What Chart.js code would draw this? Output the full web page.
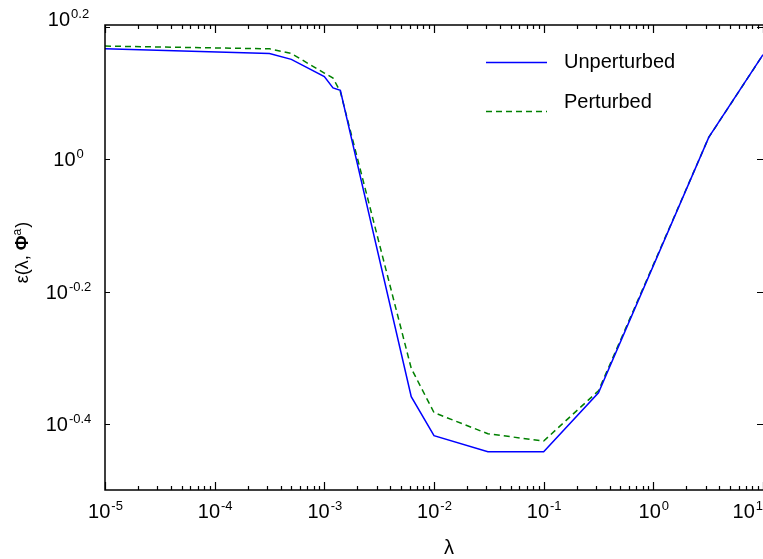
<!DOCTYPE html>
<html>
<head>
<meta charset="utf-8">
<script src="https://cdn.jsdelivr.net/npm/chart.js@4"></script>
<style>
  body { margin: 0; background: #fff; }
  #wrap { width: 763px; height: 559px; }
</style>
</head>
<body>
<div id="wrap"><canvas id="c" width="763" height="559"></canvas></div>
<script>
// lambda values (x) and error values (y)
const lambdas = [1e-5, 3.16e-4, 5e-4, 1e-3, 1.2e-3, 1.4e-3, 6.2e-3, 1e-2, 3.1e-2, 1e-1, 3.16e-1, 3.2, 10];
const unperturbed = [1.469, 1.445, 1.416, 1.334, 1.282, 1.271, 0.4375, 0.382, 0.3614, 0.3614, 0.4436, 1.079, 1.439];
const perturbed = [1.483, 1.469, 1.445, 1.350, 1.327, 1.265, 0.483, 0.414, 0.3846, 0.375, 0.4467, 1.079, 1.439];

const seriesNames = ['Unperturbed', 'Perturbed'];
const xTickExps = ['-5', '-4', '-3', '-2', '-1', '0', '1'];
const yTickExps = ['0.2', '0', '-0.2', '-0.4'];

const FONT = '"Liberation Sans", Arial, sans-serif';

function toPoints(ys) {
  return lambdas.map((x, i) => ({ x: x, y: ys[i] }));
}

function drawPow(ctx, exp, cx, baseline, maxRight) {
  ctx.font = '20px ' + FONT;
  const w1 = ctx.measureText('10').width;
  ctx.font = '13px ' + FONT;
  const w2 = ctx.measureText(exp).width;
  let left = cx - (w1 + w2) / 2;
  if (maxRight && left + w1 + w2 + 1 > maxRight) left = maxRight - w1 - w2 - 1;
  ctx.textAlign = 'left';
  ctx.textBaseline = 'alphabetic';
  ctx.font = '20px ' + FONT;
  ctx.fillText('10', left, baseline);
  ctx.font = '13px ' + FONT;
  ctx.fillText(exp, left + w1 + 1, baseline - 8);
}

// frame, gnuplot-like inward ticks, tick labels, titles and legend
const decorations = {
  id: 'decorations',
  afterDraw(chart) {
    const { ctx, chartArea: a, scales } = chart;
    const xs = scales.x, ys = scales.y;
    ctx.save();
    ctx.strokeStyle = '#000';
    ctx.fillStyle = '#000';
    ctx.lineWidth = 1.5;
    ctx.strokeRect(a.left, a.top, a.right - a.left + 2, a.bottom - a.top);

    // x ticks, bottom and top
    ctx.lineWidth = 1.2;
    ctx.beginPath();
    for (let d = -5; d <= 1; d++) {
      for (let k = 1; k <= 9; k++) {
        const v = k * Math.pow(10, d);
        if (v > xs.max * 1.0001) break;
        const px = Math.round(xs.getPixelForValue(v)) + 0.5;
        const len = k === 1 ? 8 : 4;
        ctx.moveTo(px, a.bottom); ctx.lineTo(px, a.bottom - len);
        ctx.moveTo(px, a.top); ctx.lineTo(px, a.top + len);
      }
    }
    // y ticks, left and right
    yTickExps.forEach(e => {
      const py = Math.round(ys.getPixelForValue(Math.pow(10, parseFloat(e)))) + 0.5;
      ctx.moveTo(a.left, py); ctx.lineTo(a.left + 5, py);
      ctx.moveTo(a.right, py); ctx.lineTo(a.right - 6, py);
    });
    ctx.stroke();

    // tick labels
    xTickExps.forEach(e => {
      const px = xs.getPixelForValue(Math.pow(10, parseFloat(e)));
      drawPow(ctx, e, px, 518, chart.width);
    });
    yTickExps.forEach(e => {
      let py = ys.getPixelForValue(Math.pow(10, parseFloat(e)));
      if (py - a.top < 4) py -= 8;
      drawPow(ctx, e, 68, py + 7);
    });

    // x title
    ctx.font = '20px ' + FONT;
    ctx.textAlign = 'center';
    ctx.textBaseline = 'middle';
    ctx.fillText('λ', 449, 548);

    // y title, rotated
    ctx.save();
    ctx.translate(22, 253);
    ctx.rotate(-Math.PI / 2);
    const parts = [
      { t: 'ε(λ, ', f: '18px ' + FONT, dy: 0 },
      { t: 'Φ', f: 'bold 18px ' + FONT, dy: 0 },
      { t: 'a', f: '12px ' + FONT, dy: -7 },
      { t: ')', f: '18px ' + FONT, dy: 0 }
    ];
    let total = 0;
    parts.forEach(p => { ctx.font = p.f; p.w = ctx.measureText(p.t).width; total += p.w; });
    let cx = -total / 2;
    ctx.textAlign = 'left';
    ctx.textBaseline = 'alphabetic';
    parts.forEach(p => {
      ctx.font = p.f;
      ctx.fillText(p.t, cx, 6 + p.dy);
      cx += p.w + (p.t === 'a' ? 1 : 0);
    });
    ctx.restore();

    // legend
    const ds = chart.data.datasets;
    const rows = [
      { lineY: 62, textY: 62 },
      { lineY: 111, textY: 102 }
    ];
    ds.forEach((d, i) => {
      ctx.strokeStyle = d.borderColor;
      ctx.lineWidth = d.borderWidth;
      ctx.setLineDash(d.borderDash || []);
      ctx.beginPath();
      ctx.moveTo(486, rows[i].lineY + 0.5);
      ctx.lineTo(547, rows[i].lineY + 0.5);
      ctx.stroke();
      ctx.setLineDash([]);
      ctx.fillStyle = '#000';
      ctx.font = '20px ' + FONT;
      ctx.textAlign = 'left';
      ctx.textBaseline = 'middle';
      ctx.fillText(d.label, 564, rows[i].textY);
    });
    ctx.restore();
  }
};

new Chart(document.getElementById('c'), {
  type: 'line',
  data: {
    datasets: [
      {
        label: seriesNames[0],
        data: toPoints(unperturbed),
        borderColor: '#0000ff',
        borderWidth: 1.5,
        pointRadius: 0,
        tension: 0
      },
      {
        label: seriesNames[1],
        data: toPoints(perturbed),
        borderColor: '#008000',
        borderWidth: 1.5,
        borderDash: [6, 4],
        pointRadius: 0,
        tension: 0
      }
    ]
  },
  options: {
    responsive: false,
    animation: false,
    layout: { padding: { left: 105, top: 25, right: 0, bottom: 69 } },
    plugins: { legend: { display: false }, tooltip: { enabled: false } },
    scales: {
      x: { type: 'logarithmic', display: false, bounds: 'data', min: 1e-5, max: 10 },
      y: { type: 'logarithmic', display: false, bounds: 'data', min: Math.pow(10, -0.5), max: Math.pow(10, 0.203) }
    }
  },
  plugins: [decorations]
});
</script>
</body>
</html>
